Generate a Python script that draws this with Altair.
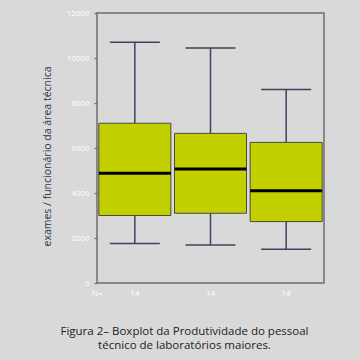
import altair as alt
import pandas as pd

groups = ["G1", "G2", "G3"]
upper = [10700, 10450, 8600]
q3 = [7100, 6650, 6250]
median = [4880, 5070, 4100]
q1 = [3000, 3100, 2730]
lower = [1760, 1690, 1500]
n_counts = ["14", "14", "14"]

df = pd.DataFrame({"g": groups, "upper": upper, "q3": q3, "median": median,
                   "q1": q1, "lower": lower, "n": n_counts})

WHISK = "#3a4460"
FILL = "#c2d000"

x = alt.X("g:N", axis=None, scale=alt.Scale(paddingInner=0, paddingOuter=0))
yscale = alt.Scale(domain=[0, 12000], nice=False)
yaxis = alt.Axis(values=[0, 2000, 4000, 6000, 8000, 10000, 12000], format="d",
                 labelColor="white", labelFontSize=8, labelFont="Open Sans",
                 tickColor="#6e6e6e", tickSize=3, tickWidth=1.2, labelPadding=5,
                 domain=False, grid=False,
                 title="exames / funcionário da área técnica",
                 titleColor="#2b3553", titleFont="Open Sans", titleFontSize=10.5,
                 titleFontWeight="normal", titleX=-50, titleY=143,
                 titleAngle=270, titleAlign="center", titleBaseline="middle")

base = alt.Chart(df)

whisk_hi = base.mark_rule(color=WHISK, strokeWidth=1.5).encode(
    x=x, y=alt.Y("q3:Q", scale=yscale, axis=yaxis), y2="upper:Q")
whisk_lo = base.mark_rule(color=WHISK, strokeWidth=1.5).encode(
    x=x, y=alt.Y("lower:Q", scale=yscale), y2="q1:Q")
cap_hi = base.mark_tick(color=WHISK, size=50, thickness=1.5, opacity=1).encode(
    x=x, y=alt.Y("upper:Q", scale=yscale))
cap_lo = base.mark_tick(color=WHISK, size=50, thickness=1.5, opacity=1).encode(
    x=x, y=alt.Y("lower:Q", scale=yscale))
box = base.mark_bar(color=FILL, stroke="#4a4a3a", strokeWidth=1, size=72,
                    opacity=1).encode(
    x=x, y=alt.Y("q1:Q", scale=yscale), y2="q3:Q")
med = base.mark_tick(color="black", size=72, thickness=3, opacity=1).encode(
    x=x, y=alt.Y("median:Q", scale=yscale))
ntext = base.mark_text(color="white", fontSize=8, font="Open Sans",
                       baseline="middle").encode(
    x=x, y=alt.value(281), text="n:N")
nlabel = alt.Chart(pd.DataFrame({"t": ["N="]})).mark_text(
    color="white", fontSize=8, font="Open Sans", baseline="middle").encode(
    x=alt.value(0), y=alt.value(281), text="t:N")

chart = alt.layer(whisk_hi, whisk_lo, cap_hi, cap_lo, box, med, ntext, nlabel).properties(
    width=227, height=270,
    title=alt.TitleParams(
        text=["Figura 2– Boxplot da Produtividade do pessoal",
              "técnico de laboratórios  maiores."],
        orient="bottom", anchor="middle", dx=-26, offset=28,
        font="Open Sans", fontSize=11.5, fontWeight="normal", color="#222222",
        lineHeight=13.5),
    autosize=alt.AutoSizeParams(type="none"),
    padding={"left": 97, "top": 13, "right": 36, "bottom": 77},
).configure(background="#d9d9d9").configure_view(
    stroke="#6e6e6e", strokeWidth=1.5)

chart.save("out.html", embed_options={"renderer": "svg", "actions": False})
